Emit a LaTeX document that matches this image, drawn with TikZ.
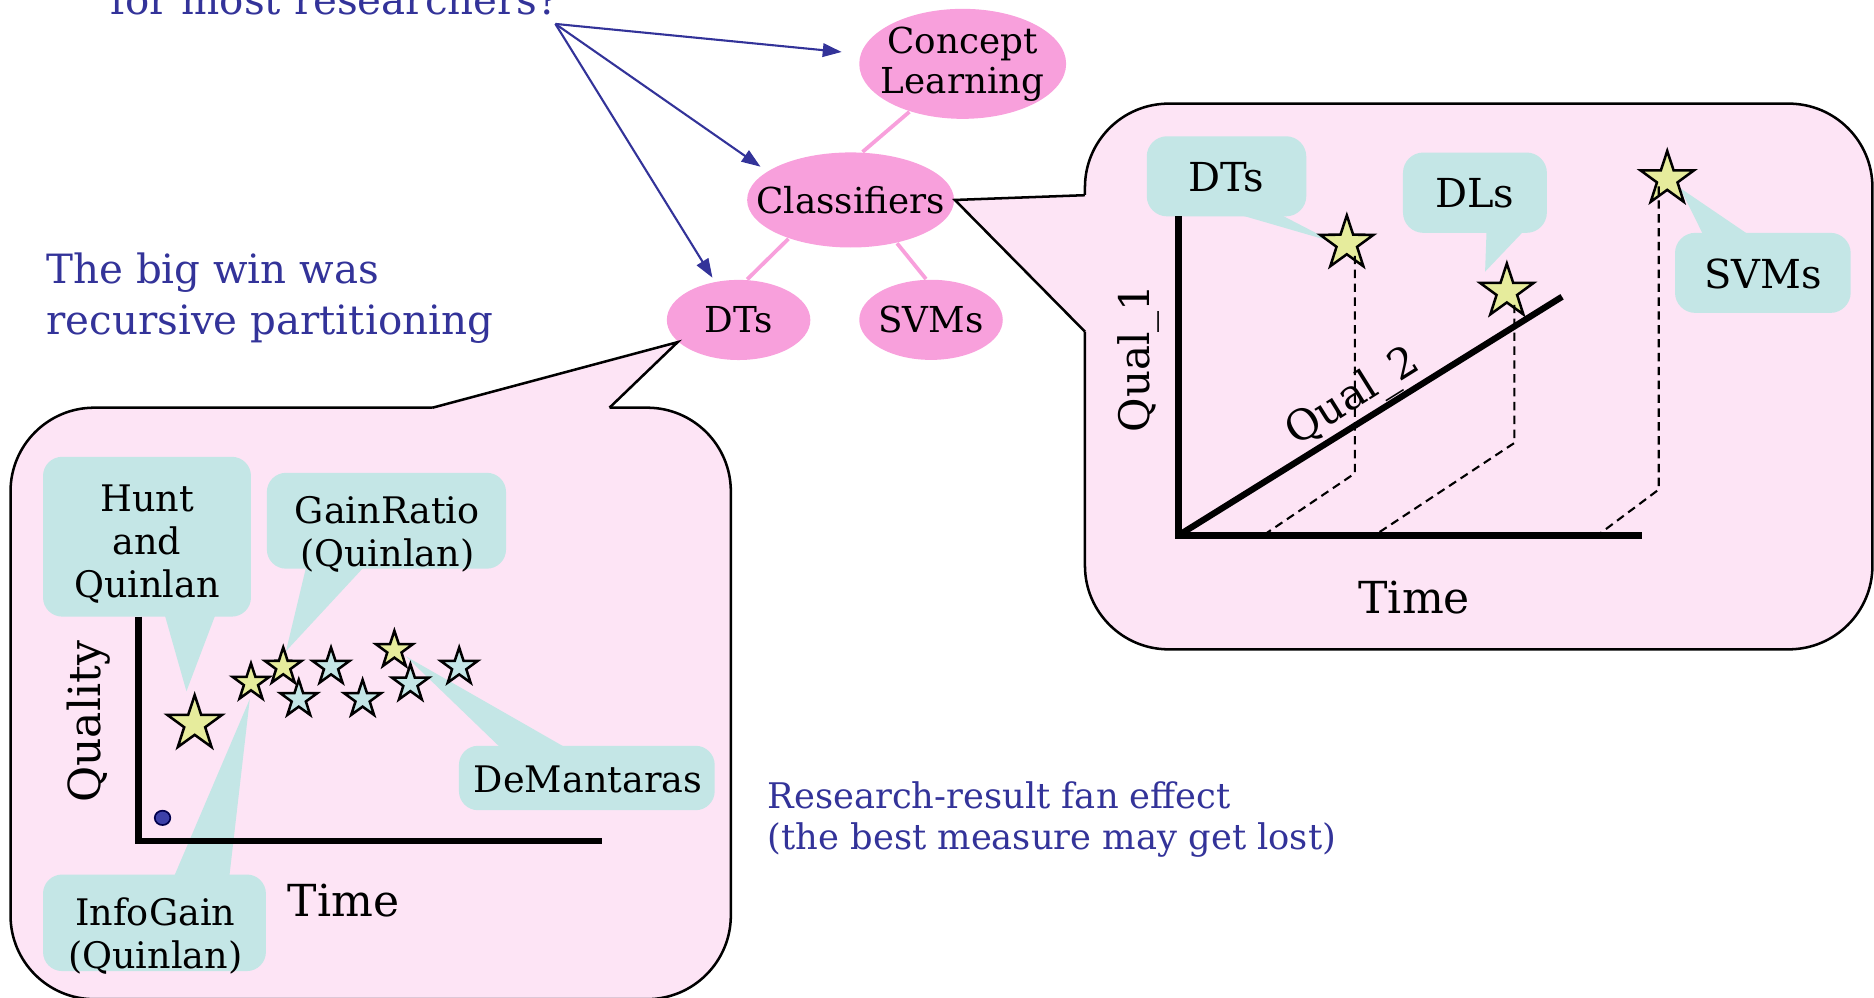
\documentclass[tikz,border=0pt]{standalone}
\usepackage{fontspec}
\setmainfont{DejaVu Serif}
\usetikzlibrary{arrows.meta,shapes.geometric}
\definecolor{qblue}{HTML}{333399}
\definecolor{nodepink}{HTML}{F8A0DC}
\definecolor{balloonpink}{HTML}{FDE4F5}
\definecolor{tagcyan}{HTML}{C4E6E6}
\definecolor{staryellow}{HTML}{E6EC9C}
\definecolor{dotblue}{HTML}{3C40A8}

\begin{document}
\begin{tikzpicture}[x=0.01cm, y=-0.01cm,
  topic/.style={ellipse, fill=nodepink, inner sep=0pt},
  topictext/.style={font=\fontsize{8.5}{9.5}\selectfont, align=center, inner sep=0pt},
  link/.style={nodepink, line width=0.9pt},
  ask/.style={qblue, line width=0.5pt, -{Triangle[length=4.5pt, width=3.2pt]}},
  note/.style={text=qblue, inner sep=0pt, align=left},
  balloon/.style={fill=balloonpink, draw=black, line width=0.6pt},
  tag/.style={fill=tagcyan},
  tagtext/.style={font=\fontsize{8.7}{10.2}\selectfont, align=center, inner sep=0pt},
  bigtag/.style={font=\fontsize{9.5}{11}\selectfont, inner sep=0pt},
  axis/.style={line width=1.5pt},
  axislabel/.style={font=\fontsize{10.5}{12}\selectfont, inner sep=0pt},
  drop/.style={line width=0.5pt, dash pattern=on 2pt off 1.3pt},
  prize/.style={star, star points=5, star point ratio=2.6, draw=black, line width=0.6pt, inner sep=0pt}
]
  \useasboundingbox (0,0) rectangle (1568,835);

  % Topic tree
  \node[topic, minimum width=1.73cm, minimum height=0.92cm,
        label={[topictext]center:{Concept\\Learning}}] (cl) at (805.5,53.4) {};
  \node[topic, minimum width=1.73cm, minimum height=0.795cm,
        label={[topictext]center:Classifiers}] (cls) at (711.7,167.3) {};
  \node[topic, minimum width=1.2cm, minimum height=0.67cm,
        label={[topictext]center:DTs}] (dts) at (618,267.7) {};
  \node[topic, minimum width=1.2cm, minimum height=0.67cm,
        label={[topictext]center:SVMs}] (svm) at (779,267.6) {};

  \draw[link] (cl.222) -- (cls.76);
  \draw[link] (cls.212) -- (dts.78);
  \draw[link] (cls.317) -- (svm.97);

  % Question and its arrows
  \node[note, anchor=base west, font=\fontsize{9.6}{12}\selectfont] (quest) at (91.7,12.5) {for most researchers?};
  \coordinate (q) at (464.7,20);
  \draw[ask, shorten >=0.155cm] (q) -- (cl);
  \draw[ask, shorten >=0.065cm] (q) -- (cls.161);
  \draw[ask, shorten >=0.036cm] (q) -- (dts);

  % Side notes
  \node[note, anchor=west, font=\fontsize{9.6}{12}\selectfont] (win) at (38.2,249.3) {The big win was\\recursive partitioning};
  \node[note, anchor=west, font=\fontsize{8.4}{9.7}\selectfont] (fan) at (641.7,685.4) {Research-result fan effect\\(the best measure may get lost)};

  % Right balloon (Classifiers)
  \filldraw[balloon, rounded corners=0.7cm] (907.8,86.7) rectangle (1566.7,543.3);
  \fill[balloonpink] (cls.east) -- (907.8,163.3) -- (912,163.3) -- (912,277.5) -- (907.8,277.5) -- cycle;
  \draw[line width=0.6pt] (907.8,163.3) -- (cls.east) -- (907.8,277.5);

  \fill[tag, rounded corners=0.17cm] (959.5,114) rectangle (1093,181);
  \fill[tag] (1038.3,180) -- (1115.5,202.4) -- (1072.2,180) -- cycle;
  \fill[tag, rounded corners=0.17cm] (1173.9,127.6) rectangle (1294.3,194.8);
  \fill[tag] (1243.8,194) -- (1242.6,227.3) -- (1274.3,194) -- cycle;
  \fill[tag, rounded corners=0.17cm] (1401.5,194.8) rectangle (1548.5,261.8);
  \fill[tag] (1424.7,195.6) -- (1405.7,157.3) -- (1462,195.6) -- cycle;
  \node[bigtag, anchor=base] (rdt) at (1026,160.3) {DTs};
  \node[bigtag, anchor=base] (rdl) at (1234,173.8) {DLs};
  \node[bigtag, anchor=base] (rsv) at (1475,241.4) {SVMs};

  \draw[axis] (986,181) -- (986,448) -- (1374,448);
  \draw[axis] (986,448) -- (1307,248.3);
  \foreach \sx/\sy [count=\i] in {1126.9/203.7, 1260.8/244, 1395/149.8}
    \node[prize, fill=staryellow, minimum size=0.47cm] (rs\i) at (\sx,\sy) {};
  \draw[drop] (1133.7,214) -- (1133.7,396) -- (1058.3,447);
  \draw[drop] (1267.1,255) -- (1267.1,370.6) -- (1151.5,447);
  \draw[drop] (1387.9,156) -- (1387.9,409.6) -- (1337.9,447);

  \node[font=\fontsize{10}{12}\selectfont, inner sep=0pt, rotate=90] (q1) at (952.3,300) {Qual\_1};
  \node[font=\fontsize{10}{12}\selectfont, inner sep=0pt, rotate=32] (q2) at (1132.4,333) {Qual\_2};
  \node[axislabel] (rtime) at (1183.3,499.8) {Time};

  % Left balloon (DTs)
  \filldraw[balloon, rounded corners=0.7cm] (8.8,341.1) rectangle (611.5,836);
  \fill[balloonpink] (dts.200) -- (362,341.1) -- (362,345) -- (510,345) -- (510,341.1) -- cycle;
  \draw[line width=0.6pt] (362,341.1) -- (dts.200) -- (510,341.1);

  \fill[tag, rounded corners=0.16cm] (36,382.2) rectangle (210,515.9);
  \fill[tag] (138,515) -- (156,578.4) -- (180,515) -- cycle;
  \fill[tag, rounded corners=0.16cm] (223.3,395.6) rectangle (423.4,475.8);
  \fill[tag] (256,475) -- (239.3,544.8) -- (304,475) -- cycle;
  \fill[tag, rounded corners=0.16cm] (36,731.7) rectangle (222.5,812.5);
  \fill[tag] (146,732.5) -- (209,584.9) -- (192,732.5) -- cycle;
  \fill[tag, rounded corners=0.16cm] (384,624) rectangle (598,677.9);
  \fill[tag] (418,624.8) -- (339.4,549) -- (472,624.8) -- cycle;

  \node[tagtext] (hunt) at (123,455) {Hunt\\and\\Quinlan};
  \node[tagtext] (gain) at (324,447.4) {GainRatio\\(Quinlan)};
  \node[tagtext] (info) at (130,783.4) {InfoGain\\(Quinlan)};
  \node[tagtext, anchor=base] (dem) at (492,663.4) {DeMantaras};

  \draw[axis] (116,516) -- (116,703.5) -- (504,703.5);
  \node[ellipse, fill=dotblue, draw=black!70!blue, line width=0.4pt, inner sep=0pt,
        minimum width=0.13cm, minimum height=0.12cm] (dot) at (136,684.3) {};

  \node[prize, fill=staryellow, minimum size=0.48cm] (big) at (162.9,605.6) {};
  \foreach \sx/\sy [count=\i] in {210/571.3, 237/557.9, 330/544}
    \node[prize, fill=staryellow, minimum size=0.325cm] (ys\i) at (\sx,\sy) {};
  \foreach \sx/\sy [count=\i] in {250/585, 277/558, 303.4/585, 343.4/572, 384.2/558}
    \node[prize, fill=tagcyan, minimum size=0.325cm] (cs\i) at (\sx,\sy) {};

  \node[axislabel, rotate=90] (qual) at (74,604) {Quality};
  \node[axislabel] (ltime) at (287.3,753.2) {Time};

\end{tikzpicture}
\end{document}
